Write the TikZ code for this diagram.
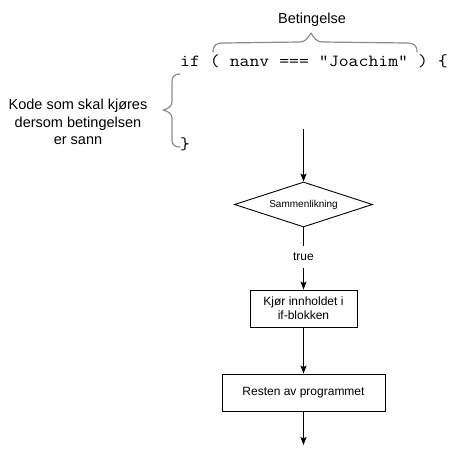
\documentclass[tikz,border=0pt]{standalone}
\usepackage{fontspec}
\setmainfont{Liberation Sans}
\usetikzlibrary{arrows.meta,shapes.geometric}
\newcommand{\codefnt}{\fontsize{17}{20}\ttfamily}
\tikzset{
  flow/.style={draw=black, line width=0.9pt, -{Stealth[length=8pt,width=6pt,inset=1.5pt]}},
  bracepath/.style={draw=black!45, line width=1.2pt, line cap=round, line join=round},
  boxnode/.style={draw=black, line width=0.9pt, minimum height=37pt, align=center,
    font=\fontsize{12}{14}\selectfont, inner sep=0pt},
  lbl/.style={font=\fontsize{14.5}{17.5}\selectfont, align=center, inner sep=0pt},
  code/.style={inner sep=0pt, anchor=base west}
}
\begin{document}
\begin{tikzpicture}[x=1pt,y=-1pt]
\useasboundingbox (0,0) rectangle (467,458);
\fill[white] (0,0) rectangle (467,458);

% texts
\node[lbl] (cond) at (312,20) {Betingelse};
\node[code] (codeline) at (180,66) {\scalebox{1.132}[1]{\codefnt if ( nanv === "Joachim" ) \{}};
\node[code] (close) at (180,149) {\scalebox{1.132}[1]{\codefnt \}}};
\node[lbl] (body) at (78,122) {Kode som skal kjøres\\dersom betingelsen\\er sann};

% top brace
\draw[bracepath] (213,52) .. controls (213,45) and (216,43) .. (224,43)
  -- (300,42) .. controls (305,42) and (308,38) .. (311,33)
  .. controls (314,38) and (317,42) .. (322,42)
  -- (406,43) .. controls (414,43) and (417,45) .. (417,52);

% left brace
\draw[bracepath] (180,74) .. controls (175,74) and (172,76) .. (172,82)
  -- (172,102) .. controls (172,106) and (168,109) .. (163,110)
  .. controls (168,111) and (172,114) .. (172,118)
  -- (172,140) .. controls (172,145) and (175,147) .. (180,147);

% flowchart
\coordinate (start) at (303.5,129);
\node[diamond, draw=black, line width=0.9pt, minimum width=138pt, minimum height=45pt,
  aspect=3, inner sep=0pt, font=\fontsize{10}{12}\selectfont] (cmp) at (303.5,204.5) {Sammenlikning};
\node[boxnode, minimum width=107pt] (run) at (303.5,308.5) {Kjør innholdet i\\if-blokken};
\node[boxnode, minimum width=163pt] (rest) at (303.5,392.5) {Resten av programmet};
\coordinate (end) at (303.5,445);

\draw[flow] (start) -- (cmp.north);
\draw[flow] (cmp.south) -- node[pos=0.47, fill=white, inner xsep=2pt, inner ysep=7pt, font=\fontsize{12}{14}\selectfont] (truelbl) {true} (run.north);
\draw[flow] (run.south) -- (rest.north);
\draw[flow] (rest.south) -- (end);
\end{tikzpicture}
\end{document}
